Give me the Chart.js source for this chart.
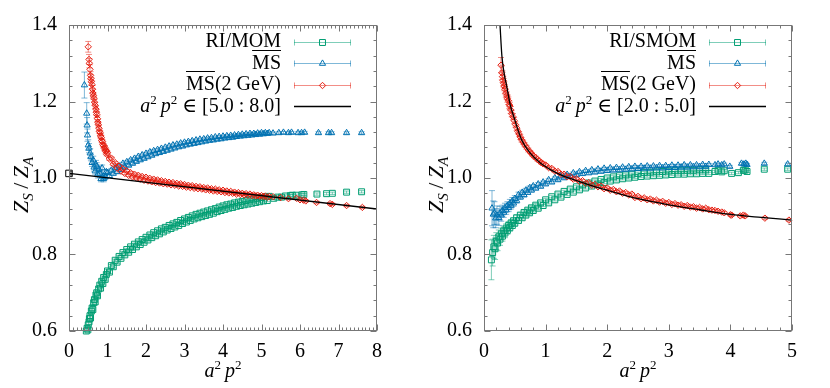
<!DOCTYPE html>
<html>
<head>
<meta charset="utf-8">
<title>ZS/ZA vs a2p2</title>
<script src="https://cdn.jsdelivr.net/npm/chart.js@4.4.1/dist/chart.umd.min.js"></script>
<style>
  html, body { margin: 0; padding: 0; background: #fff; }
  #page { position: relative; width: 830px; height: 388px; overflow: hidden;
          font-family: "Liberation Serif", "Times New Roman", "DejaVu Serif", serif; color: #000; }
  .panel { position: absolute; top: 0; width: 415px; height: 388px; }
  .panel canvas { position: absolute; left: 0; top: 0; }
  .key { position: absolute; right: 134px; top: 30px; font-size: 20px; text-align: right; white-space: nowrap; }
  .key div { height: 21.5px; line-height: 21.5px; }
  .ov { text-decoration: overline; text-decoration-thickness: 1px; }
  .sup { position: relative; top: -8px; font-size: 13px; font-style: normal; }
  .sub { position: relative; top: 5px; font-size: 15px; }
  .ytitle { position: absolute; left: 22px; top: 185px; font-size: 22px; line-height: 24px; white-space: nowrap;
            transform: translate(-50%, -50%) rotate(-90deg); }
  .xtitle { position: absolute; left: 223px; top: 359px; font-size: 20px; line-height: 22px; white-space: nowrap;
            transform: translateX(-50%); }
</style>
</head>
<body>
<div id="page">
  <div class="panel" style="left:0">
    <canvas id="left" width="415" height="388"></canvas>
    <div class="key">
      <div>RI/MOM</div>
      <div><span class="ov">MS</span></div>
      <div><span class="ov">MS</span>(2 GeV)</div>
      <div><i>a</i><span class="sup">2</span>&#8201;<i>p</i><span class="sup">2</span> ∈ [5.0 : 8.0]</div>
    </div>
    <div class="ytitle"><i>Z</i><span class="sub"><i>S</i></span>&#8201;/&#8201;<i>Z</i><span class="sub"><i>A</i></span></div>
    <div class="xtitle"><i>a</i><span class="sup">2</span>&#8201;<i>p</i><span class="sup">2</span></div>
  </div>
  <div class="panel" style="left:415px">
    <canvas id="right" width="415" height="388"></canvas>
    <div class="key">
      <div>RI/SMOM</div>
      <div><span class="ov">MS</span></div>
      <div><span class="ov">MS</span>(2 GeV)</div>
      <div><i>a</i><span class="sup">2</span>&#8201;<i>p</i><span class="sup">2</span> ∈ [2.0 : 5.0]</div>
    </div>
    <div class="ytitle"><i>Z</i><span class="sub"><i>S</i></span>&#8201;/&#8201;<i>Z</i><span class="sub"><i>A</i></span></div>
    <div class="xtitle"><i>a</i><span class="sup">2</span>&#8201;<i>p</i><span class="sup">2</span></div>
  </div>
</div>

<script>
// ---- data: [a2p2, Z_S/Z_A, error] (error left out = 0.003) ----
const yTicks = [0.6, 0.8, 1.0, 1.2, 1.4];
const xTicksL = [0, 1, 2, 3, 4, 5, 6, 7, 8];
const xTicksR = [0, 1, 2, 3, 4, 5];

// left panel: RI/MOM
const momGreenL = [
  [0.45,0.600,0.006],[0.47,0.607,0.008],[0.49,0.603,0.008],[0.50,0.616,0.008],[0.52,0.624,0.008],
  [0.53,0.632,0.008],[0.545,0.640,0.007],[0.56,0.634,0.007],[0.58,0.652,0.007],[0.60,0.660,0.007],
  [0.62,0.656,0.006],[0.64,0.674,0.006],[0.66,0.682,0.006],[0.68,0.676,0.006],[0.70,0.694,0.006],
  [0.72,0.700,0.005],[0.74,0.692,0.005],[0.77,0.710,0.005],[0.80,0.720,0.005],[0.82,0.712,0.005],
  [0.85,0.730,0.005],[0.88,0.724,0.004],[0.90,0.740,0.004],[0.94,0.735,0.004],[0.97,0.748,0.004],
  [1.00,0.757,0.004],[1.05,0.754,0.004],[1.10,0.771],[1.15,0.768],[1.20,0.785],[1.25,0.780],
  [1.30,0.795],[1.35,0.790],[1.40,0.805],[1.45,0.799],[1.50,0.813],[1.55,0.806],[1.60,0.820],
  [1.65,0.813],[1.70,0.827],[1.75,0.820],[1.80,0.833],[1.85,0.826],[1.90,0.839],[1.95,0.832],
  [2.00,0.845],[2.05,0.838],[2.10,0.851],[2.15,0.844],[2.20,0.857],[2.25,0.849],[2.30,0.862],
  [2.35,0.854],[2.40,0.867],[2.45,0.859],[2.50,0.871],[2.55,0.864],[2.60,0.876],[2.65,0.868],
  [2.70,0.880],[2.75,0.872],[2.80,0.884],[2.85,0.876],[2.90,0.889],[2.95,0.881],[3.00,0.893],
  [3.05,0.885],[3.10,0.897],[3.15,0.889],[3.20,0.901],[3.25,0.893],[3.30,0.905],[3.35,0.896],
  [3.40,0.908],[3.45,0.899],[3.50,0.911],[3.55,0.902],[3.60,0.914],[3.65,0.905],[3.70,0.917],
  [3.75,0.908],[3.80,0.920],[3.85,0.912],[3.90,0.924],[3.95,0.915],[4.00,0.927],[4.05,0.918],
  [4.10,0.930],[4.15,0.921],[4.20,0.932],[4.25,0.923],[4.30,0.935],[4.35,0.926],[4.40,0.937],
  [4.45,0.928],[4.50,0.939],[4.55,0.930],[4.60,0.941],[4.65,0.932],[4.70,0.943],[4.75,0.934],
  [4.80,0.945],[4.85,0.936],[4.90,0.947],[4.95,0.938],[5.00,0.949],[5.05,0.940],[5.10,0.951],
  [5.15,0.941],[5.20,0.952],[5.32,0.947],[5.42,0.950],[5.52,0.950],[5.62,0.953],[5.75,0.954],
  [5.80,0.955],[5.90,0.955],[6.05,0.956],[6.10,0.957],[6.44,0.958],[6.69,0.959],[6.84,0.960],
  [7.21,0.963],[7.60,0.964]
];
// left panel: MSbar
const msBlueL = [
  [0.40,1.243,0.034],[0.46,1.169,0.028],[0.47,1.138,0.020],[0.48,1.112,0.016],[0.50,1.086,0.014],
  [0.52,1.078,0.012],[0.55,1.065,0.012],[0.57,1.055,0.010],[0.60,1.040,0.010],[0.63,1.047,0.010],
  [0.65,1.028,0.010],[0.68,1.018,0.010],[0.70,1.036,0.010],[0.72,1.030,0.010],[0.75,1.010,0.010],
  [0.78,1.022,0.009],[0.80,1.012,0.009],[0.83,0.998,0.008],[0.86,1.026,0.008],[0.88,1.005,0.008],
  [0.90,0.998,0.008],[0.94,1.003,0.007],[0.97,1.016,0.006],[1.00,1.014,0.006],[1.05,1.006,0.005],
  [1.10,1.020,0.005],[1.15,1.012,0.005],[1.20,1.026,0.004],[1.25,1.016,0.004],[1.30,1.031,0.004],
  [1.35,1.022,0.004],[1.40,1.038],[1.45,1.028],[1.50,1.042],[1.55,1.033],[1.60,1.047],[1.65,1.038],
  [1.70,1.051],[1.75,1.043],[1.80,1.056],[1.85,1.047],[1.90,1.060],[1.95,1.051],[2.00,1.064],
  [2.05,1.055],[2.10,1.068],[2.15,1.059],[2.20,1.071],[2.25,1.063],[2.30,1.074],[2.35,1.066],
  [2.40,1.077],[2.45,1.069],[2.50,1.080],[2.55,1.072],[2.60,1.083],[2.65,1.075],[2.70,1.086],
  [2.75,1.078],[2.80,1.088],[2.85,1.081],[2.90,1.091],[2.95,1.083],[3.00,1.093],[3.05,1.086],
  [3.10,1.095],[3.15,1.088],[3.20,1.097],[3.25,1.090],[3.30,1.099],[3.35,1.092],[3.40,1.101],
  [3.45,1.094],[3.50,1.102],[3.55,1.096],[3.60,1.104],[3.65,1.098],[3.70,1.105],[3.75,1.099],
  [3.80,1.107],[3.85,1.101],[3.90,1.108],[3.95,1.102],[4.00,1.109],[4.05,1.104],[4.10,1.110],
  [4.15,1.105],[4.20,1.111],[4.25,1.106],[4.30,1.112],[4.35,1.108],[4.40,1.113],[4.45,1.109],
  [4.50,1.114],[4.55,1.110],[4.60,1.115],[4.65,1.111],[4.70,1.116],[4.75,1.112],[4.80,1.116],
  [4.85,1.113],[4.90,1.117],[4.95,1.114],[5.00,1.118],[5.05,1.115],[5.10,1.118],[5.15,1.116],
  [5.20,1.118],[5.30,1.117],[5.45,1.118],[5.57,1.119],[5.70,1.118],[5.78,1.119],[5.95,1.118],
  [6.04,1.118],[6.12,1.119],[6.48,1.118],[6.74,1.118],[6.82,1.118],[7.21,1.118],[7.60,1.118]
];
// left panel: MSbar(2 GeV)
const ms2RedL = [
  [0.50,1.343,0.014],[0.52,1.310,0.013],[0.53,1.300,0.012],[0.545,1.284,0.012],[0.56,1.268,0.010],
  [0.57,1.260,0.010],[0.58,1.252,0.010],[0.60,1.244,0.010],[0.61,1.232,0.010],[0.62,1.222,0.010],
  [0.635,1.215,0.009],[0.65,1.208,0.009],[0.665,1.198,0.008],[0.68,1.190,0.008],[0.70,1.180,0.008],
  [0.71,1.172,0.008],[0.72,1.166,0.008],[0.74,1.155,0.007],[0.75,1.146,0.007],[0.76,1.140,0.007],
  [0.78,1.130,0.007],[0.79,1.122,0.006],[0.81,1.118,0.006],[0.82,1.110,0.006],[0.84,1.106,0.006],
  [0.85,1.098,0.005],[0.87,1.095,0.005],[0.88,1.087,0.005],[0.90,1.085,0.005],[0.92,1.077,0.005],
  [0.93,1.080,0.005],[0.95,1.070,0.005],[0.97,1.072,0.004],[0.98,1.062,0.004],[1.00,1.066,0.004],
  [1.05,1.050,0.004],[1.10,1.052],[1.15,1.036],[1.20,1.040],[1.25,1.026],[1.30,1.031],[1.35,1.018],
  [1.40,1.024],[1.45,1.012],[1.50,1.019],[1.55,1.007],[1.60,1.014],[1.65,1.003],[1.70,1.010],
  [1.75,1.000],[1.80,1.007],[1.85,0.997],[1.90,1.004],[1.95,0.994],[2.00,1.002],[2.05,0.992],
  [2.10,0.999],[2.15,0.990],[2.20,0.997],[2.25,0.988],[2.30,0.995],[2.35,0.987],[2.40,0.993],
  [2.45,0.985],[2.50,0.991],[2.55,0.984],[2.60,0.989],[2.65,0.982],[2.70,0.988],[2.75,0.981],
  [2.80,0.986],[2.85,0.979],[2.90,0.985],[2.95,0.978],[3.00,0.983],[3.05,0.976],[3.10,0.981],
  [3.15,0.975],[3.20,0.980],[3.25,0.973],[3.30,0.978],[3.35,0.972],[3.40,0.977],[3.45,0.971],
  [3.50,0.975],[3.55,0.969],[3.60,0.974],[3.65,0.968],[3.70,0.972],[3.75,0.966],[3.80,0.971],
  [3.85,0.965],[3.90,0.969],[3.95,0.964],[4.00,0.968],[4.05,0.962],[4.10,0.966],[4.15,0.961],
  [4.20,0.965],[4.25,0.960],[4.30,0.963],[4.35,0.958],[4.40,0.962],[4.45,0.957],[4.50,0.960],
  [4.55,0.956],[4.60,0.959],[4.65,0.955],[4.70,0.958],[4.75,0.954],[4.80,0.956],[4.85,0.953],
  [4.90,0.955],[4.95,0.952],[5.00,0.954],[5.05,0.951],[5.10,0.953],[5.15,0.950],[5.20,0.952],
  [5.30,0.951],[5.50,0.949],[5.70,0.946],[5.91,0.947],[6.00,0.943],[6.09,0.942],[6.15,0.940],
  [6.43,0.936],[6.78,0.933],[6.84,0.931],[7.21,0.928],[7.62,0.923]
];
// left panel: linear fit over [5.0:8.0] and its a2p2 -> 0 value
const fitL = [[0, 1.012], [8, 0.919]];
const anchorL = [[0, 1.012, 0.004]];

// right panel: RI/SMOM
const smomGreenR = [
  [0.12,0.786,0.052],[0.14,0.805,0.035],[0.16,0.820,0.030],[0.18,0.815,0.028],[0.20,0.835,0.022],
  [0.22,0.830,0.020],[0.24,0.846,0.018],[0.26,0.840,0.016],[0.28,0.854,0.015],[0.30,0.848,0.013],
  [0.32,0.862,0.012],[0.34,0.856,0.012],[0.36,0.869,0.011],[0.38,0.863,0.010],[0.40,0.876,0.010],
  [0.42,0.870,0.009],[0.44,0.882,0.009],[0.46,0.876,0.008],[0.48,0.888,0.008],[0.50,0.882,0.008],
  [0.53,0.896,0.007],[0.56,0.889,0.007],[0.59,0.903,0.006],[0.62,0.896,0.006],[0.65,0.910,0.006],
  [0.68,0.903,0.005],[0.71,0.916,0.005],[0.74,0.909,0.005],[0.77,0.922,0.005],[0.80,0.915,0.004],
  [0.84,0.929,0.004],[0.88,0.921,0.004],[0.92,0.935,0.004],[0.96,0.928],[1.00,0.943],[1.05,0.935],
  [1.10,0.951],[1.15,0.943],[1.20,0.958],[1.25,0.950],[1.30,0.965],[1.35,0.957],[1.40,0.971],
  [1.45,0.963],[1.50,0.977],[1.55,0.969],[1.60,0.982],[1.65,0.974],[1.70,0.987],[1.75,0.979],
  [1.80,0.992],[1.85,0.984],[1.90,0.996],[1.95,0.988],[2.00,1.000],[2.05,0.992],[2.10,1.003],
  [2.15,0.995],[2.20,1.006],[2.25,0.998],[2.30,1.008],[2.35,1.000],[2.40,1.010],[2.45,1.002],
  [2.50,1.012],[2.55,1.004],[2.60,1.014],[2.65,1.005],[2.70,1.015],[2.75,1.006],[2.80,1.016],
  [2.85,1.007],[2.90,1.017],[2.95,1.008],[3.00,1.018],[3.05,1.009],[3.10,1.019],[3.15,1.010],
  [3.20,1.019],[3.25,1.010],[3.30,1.020],[3.35,1.011],[3.40,1.020],[3.45,1.011],[3.50,1.021],
  [3.55,1.012],[3.60,1.021],[3.65,1.012],[3.75,1.017],[3.80,1.020],[3.86,1.016],[3.90,1.019],
  [4.02,1.012],[4.13,1.014],[4.21,1.020],[4.24,1.021],[4.27,1.017],[4.55,1.023],[4.93,1.023]
];
// right panel: MSbar
const msBlueR = [
  [0.13,0.921,0.046],[0.15,0.905,0.035],[0.17,0.908,0.030],[0.19,0.895,0.025],[0.21,0.903,0.024],
  [0.24,0.896,0.020],[0.26,0.908,0.018],[0.28,0.903,0.016],[0.30,0.915,0.014],[0.32,0.910,0.013],
  [0.34,0.922,0.012],[0.36,0.916,0.011],[0.38,0.928,0.010],[0.40,0.922,0.010],[0.42,0.934,0.010],
  [0.44,0.928,0.009],[0.46,0.940,0.009],[0.48,0.934,0.008],[0.50,0.946,0.008],[0.53,0.941,0.007],
  [0.56,0.956,0.007],[0.59,0.950,0.006],[0.62,0.962,0.006],[0.65,0.956,0.006],[0.68,0.968,0.005],
  [0.71,0.962,0.005],[0.74,0.974,0.005],[0.77,0.968,0.005],[0.80,0.979,0.004],[0.84,0.973,0.004],
  [0.88,0.984,0.004],[0.92,0.978,0.004],[0.96,0.989],[1.00,0.984],[1.05,0.995],[1.10,0.989],
  [1.15,1.000],[1.20,0.995],[1.25,1.005],[1.30,1.000],[1.35,1.009],[1.40,1.004],[1.45,1.013],
  [1.50,1.008],[1.55,1.016],[1.60,1.011],[1.65,1.019],[1.70,1.013],[1.75,1.021],[1.80,1.015],
  [1.85,1.023],[1.90,1.017],[1.95,1.025],[2.00,1.019],[2.05,1.026],[2.10,1.020],[2.15,1.027],
  [2.20,1.021],[2.25,1.028],[2.30,1.022],[2.35,1.029],[2.40,1.023],[2.45,1.030],[2.50,1.024],
  [2.55,1.030],[2.60,1.025],[2.65,1.031],[2.70,1.025],[2.75,1.031],[2.80,1.026],[2.85,1.032],
  [2.90,1.026],[2.95,1.032],[3.00,1.027],[3.05,1.033],[3.10,1.027],[3.15,1.033],[3.20,1.028],
  [3.25,1.034],[3.30,1.028],[3.35,1.034],[3.40,1.029],[3.45,1.034],[3.50,1.029],[3.55,1.035],
  [3.60,1.030],[3.65,1.035],[3.75,1.034],[3.80,1.036],[3.86,1.034],[3.90,1.036],[3.99,1.030],
  [4.18,1.038],[4.22,1.036],[4.25,1.038],[4.27,1.035],[4.55,1.038],[4.93,1.036]
];
// right panel: MSbar(2 GeV)
const ms2RedR = [
  [0.276,1.295,0.020],[0.29,1.275,0.018],[0.30,1.265,0.015],[0.31,1.255,0.014],[0.32,1.248,0.012],
  [0.33,1.240,0.012],[0.34,1.232,0.012],[0.355,1.222,0.011],[0.37,1.215,0.010],[0.38,1.208,0.010],
  [0.395,1.202,0.010],[0.41,1.192,0.010],[0.42,1.188,0.010],[0.435,1.178,0.009],[0.45,1.168,0.008],
  [0.47,1.160,0.008],[0.49,1.150,0.008],[0.51,1.140,0.007],[0.53,1.131,0.007],[0.55,1.122,0.006],
  [0.57,1.115,0.006],[0.59,1.107,0.006],[0.61,1.100,0.006],[0.635,1.094,0.005],[0.66,1.087,0.005],
  [0.69,1.080,0.005],[0.72,1.073,0.005],[0.75,1.068,0.004],[0.78,1.062,0.004],[0.81,1.057,0.004],
  [0.84,1.053,0.004],[0.87,1.048,0.004],[0.90,1.044],[0.93,1.040],[0.96,1.037],[1.00,1.034],
  [1.05,1.027],[1.10,1.025],[1.15,1.018],[1.20,1.017],[1.25,1.010],[1.30,1.010],[1.35,1.003],
  [1.40,1.004],[1.45,0.997],[1.50,0.998],[1.55,0.991],[1.60,0.993],[1.65,0.986],[1.70,0.988],
  [1.75,0.981],[1.80,0.983],[1.85,0.977],[1.90,0.979],[1.95,0.972],[2.00,0.974],[2.05,0.968],
  [2.10,0.970],[2.15,0.964],[2.20,0.966],[2.25,0.960],[2.30,0.962],[2.35,0.956],[2.40,0.958],
  [2.45,0.949],[2.50,0.952],[2.55,0.946],[2.60,0.948],[2.65,0.943],[2.70,0.945],[2.75,0.940],
  [2.80,0.942],[2.85,0.937],[2.90,0.939],[2.95,0.934],[3.00,0.936],[3.05,0.931],[3.10,0.933],
  [3.15,0.929],[3.20,0.930],[3.25,0.926],[3.30,0.928],[3.35,0.924],[3.40,0.925],[3.45,0.921],
  [3.50,0.923],[3.55,0.919],[3.60,0.921],[3.65,0.917],[3.70,0.916],[3.75,0.915],[3.80,0.913],
  [3.86,0.911],[3.90,0.909],[4.00,0.904],[4.02,0.903],[4.16,0.901],[4.21,0.903],[4.24,0.901],
  [4.56,0.895],[4.95,0.890]
];
// right panel: fit over [2.0:5.0]
const fitR = [
  [0.26,1.400],[0.29,1.320],[0.33,1.270],[0.37,1.239],[0.42,1.195],[0.50,1.152],[0.61,1.100],
  [0.75,1.065],[0.91,1.040],[1.10,1.020],[1.29,1.005],[1.50,0.993],[1.77,0.979],[2.00,0.968],
  [2.50,0.946],[3.00,0.930],[3.50,0.917],[4.00,0.905],[4.50,0.897],[5.00,0.890]
];

const GREEN = '#009e73', BLUE = '#0072b2', RED = '#e51e10';
const FONT = '"Liberation Serif", "Times New Roman", serif';

function pts(rows) {
  return rows.map(r => ({ x: r[0], y: r[1], e: r.length > 2 ? r[2] : 0.003 }));
}

function alpha(hex, a) {
  const n = parseInt(hex.slice(1), 16);
  return `rgba(${n >> 16},${(n >> 8) & 255},${n & 255},${a})`;
}

// gnuplot look: error bars, inward ticks on all sides, grey border, key samples
const gnuplotFrame = {
  id: 'gnuplotFrame',
  beforeDatasetsDraw(chart) {
    const { ctx, chartArea: a } = chart;
    const ys = chart.scales.y;
    ctx.save();
    ctx.beginPath();
    ctx.rect(a.left, a.top, a.right - a.left, a.bottom - a.top);
    ctx.clip();
    ctx.lineWidth = 1;
    chart.data.datasets.forEach((ds, i) => {
      if (!ds.errColor) return;
      const meta = chart.getDatasetMeta(i);
      ctx.strokeStyle = ds.errColor;
      ctx.beginPath();
      ds.data.forEach((p, j) => {
        const px = meta.data[j].x;
        const t = ys.getPixelForValue(p.y + p.e), b = ys.getPixelForValue(p.y - p.e);
        ctx.moveTo(px, t); ctx.lineTo(px, b);
        ctx.moveTo(px - 3, t); ctx.lineTo(px + 3, t);
        ctx.moveTo(px - 3, b); ctx.lineTo(px + 3, b);
      });
      ctx.stroke();
    });
    ctx.restore();
  },
  afterDraw(chart, args, opts) {
    const { ctx, chartArea: a } = chart;
    const xs = chart.scales.x, ys = chart.scales.y;
    const L = Math.round(a.left) + 0.5, R = Math.round(a.right) - 0.5;
    const T = Math.round(a.top) + 0.5, B = Math.round(a.bottom) - 0.5;
    ctx.save();
    ctx.strokeStyle = '#777';
    ctx.lineWidth = 1;
    ctx.beginPath();
    const nx = Math.round(xs.max / opts.minorX);
    for (let i = 0; i <= nx; i++) {
      const v = i * opts.minorX;
      const len = Math.abs(v - Math.round(v)) < 1e-6 ? 6 : 3;
      const px = Math.round(xs.getPixelForValue(v)) + 0.5;
      ctx.moveTo(px, B); ctx.lineTo(px, B - len);
      ctx.moveTo(px, T); ctx.lineTo(px, T + len);
    }
    for (let i = 0; i <= 20; i++) {
      const v = 0.6 + i * 0.04;
      const len = i % 5 === 0 ? 6 : 3;
      const py = Math.round(ys.getPixelForValue(v)) + 0.5;
      ctx.moveTo(L, py); ctx.lineTo(L + len, py);
      ctx.moveTo(R, py); ctx.lineTo(R - len, py);
    }
    ctx.stroke();
    ctx.strokeRect(L, T, R - L, B - T);

    // key samples
    const k = opts.key;
    chart.data.datasets.filter(d => d.keyRow !== undefined).forEach(ds => {
      const y = Math.round(k.rows[ds.keyRow]) + 0.5;
      ctx.beginPath();
      if (ds.errColor) {
        ctx.strokeStyle = ds.errColor;
        ctx.lineWidth = 1;
        ctx.moveTo(k.x0, y); ctx.lineTo(k.x1, y);
        ctx.moveTo(k.x0 + 0.5, y - 3); ctx.lineTo(k.x0 + 0.5, y + 3);
        ctx.moveTo(k.x1 - 0.5, y - 3); ctx.lineTo(k.x1 - 0.5, y + 3);
        ctx.stroke();
        ctx.strokeStyle = ds.borderColor;
        ctx.fillStyle = 'rgba(0,0,0,0)';
        Chart.helpers.drawPoint(ctx, { pointStyle: ds.pointStyle, radius: ds.pointRadius, borderWidth: 1, rotation: 0 },
          (k.x0 + k.x1) / 2, y);
      } else {
        ctx.strokeStyle = ds.borderColor;
        ctx.lineWidth = ds.borderWidth;
        ctx.moveTo(k.x0, y); ctx.lineTo(k.x1, y);
        ctx.stroke();
      }
    });
    ctx.restore();
  }
};

function scatterSet(rows, color, style, radius, keyRow, order) {
  return {
    data: pts(rows), pointStyle: style, pointRadius: radius, pointBorderWidth: 1,
    borderColor: color, backgroundColor: 'rgba(0,0,0,0)', pointBackgroundColor: 'rgba(0,0,0,0)',
    errColor: alpha(color, 0.5), keyRow: keyRow, order: order, clip: false
  };
}

function makePanel(id, sets, fit, xmax, xTicks, minorX, key) {
  const datasets = [
    scatterSet(sets[0], GREEN, 'rect', 4.2, 0, 4),
    scatterSet(sets[1], BLUE, 'triangle', 3.6, 1, 3),
    scatterSet(sets[2], RED, 'rectRot', 3.2, 2, 2),
    {
      type: 'line', data: pts(fit), borderColor: '#000', borderWidth: 1.3, pointRadius: 0,
      cubicInterpolationMode: 'monotone', fill: false, keyRow: 3, order: 1
    }
  ];
  if (sets[3]) {
    const anchor = scatterSet(sets[3], '#000', 'rect', 4.6, undefined, 0);
    anchor.errColor = '#000';
    delete anchor.keyRow;
    datasets.push(anchor);
  }
  return new Chart(document.getElementById(id), {
    type: 'scatter',
    data: { datasets },
    options: {
      responsive: false,
      animation: false,
      devicePixelRatio: 1,
      layout: { padding: { top: 25, right: 38, left: 0, bottom: 0 } },
      plugins: {
        legend: { display: false },
        tooltip: { enabled: false },
        gnuplotFrame: { minorX, key }
      },
      scales: {
        x: {
          type: 'linear', min: 0, max: xmax,
          grid: { display: false, drawTicks: false }, border: { display: false },
          afterBuildTicks: s => { s.ticks = xTicks.map(v => ({ value: v })); },
          ticks: { font: { family: FONT, size: 20 }, color: '#000', padding: 9, maxRotation: 0, autoSkip: false,
                   callback: v => String(v) },
          afterFit: s => { s.height = 57; }
        },
        y: {
          type: 'linear', min: 0.6, max: 1.4,
          grid: { display: false, drawTicks: false }, border: { display: false },
          afterBuildTicks: s => { s.ticks = yTicks.map(v => ({ value: v })); },
          ticks: { font: { family: FONT, size: 20 }, color: '#000', padding: 12, autoSkip: false,
                   callback: v => Number(v).toFixed(1) },
          afterFit: s => { s.width = 69; }
        }
      }
    },
    plugins: [gnuplotFrame]
  });
}

makePanel('left', [momGreenL, msBlueL, ms2RedL, anchorL], fitL, 8, xTicksL, 0.1,
  { x0: 294, x1: 351, rows: [42, 63, 84.5, 106] });
makePanel('right', [smomGreenR, msBlueR, ms2RedR], fitR, 5, xTicksR, 0.2,
  { x0: 294, x1: 351, rows: [42, 63, 84.5, 106] });
</script>
</body>
</html>
